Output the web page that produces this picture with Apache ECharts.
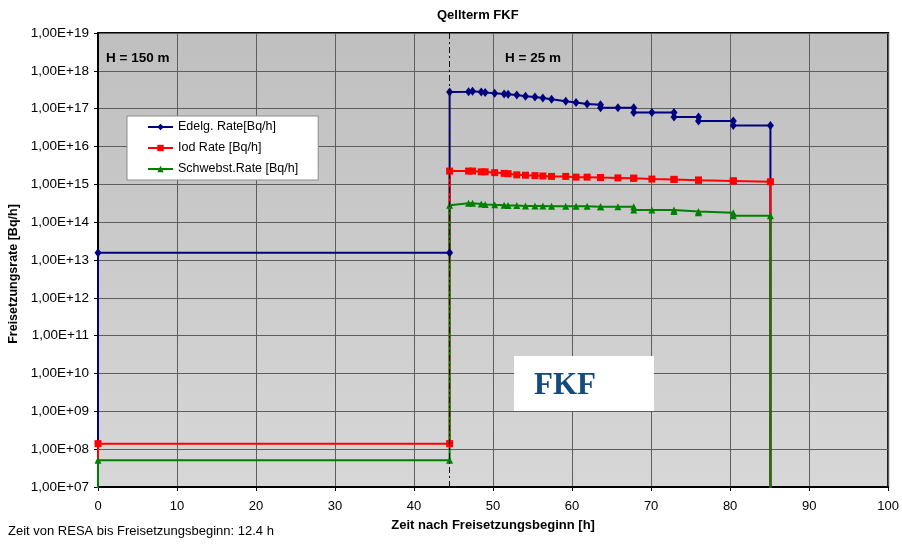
<!DOCTYPE html>
<html>
<head>
<meta charset="utf-8">
<script src="https://cdn.jsdelivr.net/npm/echarts@6/dist/echarts.min.js"></script>
<style>
  html, body { margin: 0; padding: 0; background: #ffffff; }
  #chart { width: 902px; height: 544px; }
</style>
</head>
<body>
<div id="chart"></div>
<script>
// Time after release start [h]; repeated times make the step changes of the rates
const times = [0, 0, 44.5, 44.5, 46.9, 47.4, 48.5, 49.0, 50.2, 51.4, 51.9, 53.0, 54.1, 55.3, 56.3, 57.4,
  59.2, 60.5, 61.9, 63.6, 63.6, 65.8, 67.8, 67.8, 70.1, 72.9, 72.9, 76.0, 76.0, 80.4, 80.4, 85.1, 85.1];

// Release rates [Bq/h]; 0 = no release
const edelgRate = [0, 1.55e13, 1.55e13, 2.75e17, 2.82e17, 2.88e17, 2.75e17, 2.69e17, 2.57e17, 2.45e17, 2.40e17,
  2.29e17, 2.14e17, 2.04e17, 1.91e17, 1.78e17, 1.58e17, 1.45e17, 1.32e17, 1.26e17, 1.05e17, 1.05e17, 1.05e17,
  7.9e16, 7.9e16, 7.9e16, 6.0e16, 6.0e16, 4.7e16, 4.7e16, 3.6e16, 3.6e16, 0];
const iodRate = [0, 1.4e8, 1.4e8, 2.24e15, 2.24e15, 2.24e15, 2.14e15, 2.14e15, 2.04e15, 1.95e15, 1.91e15,
  1.78e15, 1.74e15, 1.70e15, 1.66e15, 1.62e15, 1.62e15, 1.55e15, 1.55e15, 1.51e15, 1.51e15, 1.48e15, 1.45e15,
  1.45e15, 1.38e15, 1.35e15, 1.35e15, 1.29e15, 1.29e15, 1.23e15, 1.23e15, 1.17e15, 0];
const schwebstRate = [0, 5.1e7, 5.1e7, 2.8e14, 3.16e14, 3.16e14, 3.0e14, 2.95e14, 2.88e14, 2.82e14, 2.75e14,
  2.75e14, 2.69e14, 2.69e14, 2.69e14, 2.63e14, 2.63e14, 2.63e14, 2.63e14, 2.57e14, 2.57e14, 2.57e14, 2.57e14,
  2.09e14, 2.09e14, 2.09e14, 1.9e14, 1.9e14, 1.78e14, 1.78e14, 1.48e14, 1.48e14, 0];

const seriesNames = ['Edelg. Rate[Bq/h]', 'Iod Rate [Bq/h]', 'Schwebst.Rate [Bq/h]'];
const xTicks = [0, 10, 20, 30, 40, 50, 60, 70, 80, 90, 100];
const yMin = 1e7, yMax = 1e19;
const stackHeightChange = 44.5;   // switch from H = 150 m to H = 25 m

const FONT = '"Liberation Sans", Arial, sans-serif';
// zero rates cannot sit on a log axis: they are drawn below the axis floor and clipped
const FLOOR = 1;

function toPoints(values) {
  return times.map((t, i) => {
    const v = values[i];
    return v === 0 ? { value: [t, FLOOR], symbol: 'none' } : { value: [t, v] };
  });
}

const chart = echarts.init(document.getElementById('chart'), null, { renderer: 'canvas' });

const expLabel = (v) => {
  const e = Math.round(Math.log10(v));
  return '1,00E+' + (e < 10 ? '0' + e : String(e));
};

chart.setOption({
  animation: false,
  backgroundColor: '#ffffff',
  textStyle: { fontFamily: FONT },
  grid: {
    left: 98, right: 11, top: 33, bottom: 57,
    show: true,
    borderColor: '#000000',
    borderWidth: 2,
    backgroundColor: {
      type: 'linear', x: 0, y: 0, x2: 0, y2: 1,
      colorStops: [{ offset: 0, color: '#bfbfbf' }, { offset: 1, color: '#d7d7d7' }]
    }
  },
  legend: {
    orient: 'vertical',
    left: 127, top: 116,
    padding: [4, 20, 4, 20],
    itemGap: 7,
    itemWidth: 25,
    itemHeight: 8,
    backgroundColor: '#ffffff',
    borderColor: '#8c8c8c',
    borderWidth: 1,
    borderRadius: 0,
    data: seriesNames,
    textStyle: { fontFamily: FONT, fontSize: 12.5, color: '#000000', lineHeight: 14 }
  },
  xAxis: {
    type: 'value',
    min: xTicks[0], max: xTicks[xTicks.length - 1], interval: 10,
    name: 'Zeit nach Freisetzungsbeginn [h]',
    nameLocation: 'middle',
    nameGap: 32,
    nameTextStyle: { fontFamily: FONT, fontSize: 13, fontWeight: 'bold', color: '#000000' },
    axisLine: { show: true, onZero: false, lineStyle: { color: '#000000', width: 2 } },
    axisTick: { show: true, length: 4, lineStyle: { color: '#000000' } },
    axisLabel: { fontFamily: FONT, fontSize: 13, color: '#000000', margin: 13 },
    splitLine: { show: true, lineStyle: { color: '#5e5e5e', width: 1 } }
  },
  yAxis: {
    type: 'log',
    logBase: 10,
    min: yMin, max: yMax,
    interval: 1,
    axisLine: { show: true, lineStyle: { color: '#000000', width: 2 } },
    axisTick: { show: true, length: 4, lineStyle: { color: '#000000' } },
    minorTick: { show: false },
    axisLabel: { fontFamily: FONT, fontSize: 13.5, color: '#000000', margin: 9, formatter: expLabel },
    splitLine: { show: true, lineStyle: { color: '#5e5e5e', width: 1 } }
  },
  series: [
    {
      name: seriesNames[0],
      type: 'line',
      data: toPoints(edelgRate),
      clip: true,
      color: '#000080',
      lineStyle: { width: 2, color: '#000080' },
      symbol: 'diamond',
      symbolSize: [7, 9],
      itemStyle: { color: '#000080' },
      markLine: {
        silent: true,
        symbol: 'none',
        label: { show: false },
        lineStyle: { color: '#111111', width: 1, type: [6, 3, 2, 3] },
        data: [{ xAxis: stackHeightChange }]
      }
    },
    {
      name: seriesNames[1],
      type: 'line',
      data: toPoints(iodRate),
      clip: true,
      color: '#ff0000',
      lineStyle: { width: 2, color: '#ff0000' },
      symbol: 'rect',
      symbolSize: 7,
      itemStyle: { color: '#ff0000' }
    },
    {
      name: seriesNames[2],
      type: 'line',
      data: toPoints(schwebstRate),
      clip: true,
      color: '#008000',
      lineStyle: { width: 2, color: '#008000' },
      symbol: 'triangle',
      symbolSize: 7,
      itemStyle: { color: '#008000' }
    }
  ],
  graphic: [
    {
      type: 'text', left: 437, top: 9,
      style: { text: 'Qellterm FKF', font: 'bold 13px ' + FONT, fill: '#000000' }
    },
    {
      type: 'text', left: 106, top: 51,
      style: { text: 'H = 150 m', font: 'bold 13.5px ' + FONT, fill: '#000000' }
    },
    {
      type: 'text', left: 505, top: 51,
      style: { text: 'H = 25 m', font: 'bold 13.5px ' + FONT, fill: '#000000' }
    },
    {
      type: 'text',
      x: 14, y: 274,
      rotation: Math.PI / 2,
      style: {
        text: 'Freisetzungsrate [Bq/h]', font: 'bold 12.5px ' + FONT, fill: '#000000',
        align: 'center', verticalAlign: 'middle'
      }
    },
    {
      type: 'text', left: 8, top: 525,
      style: { text: 'Zeit von RESA bis Freisetzungsbeginn: 12.4 h', font: '13px ' + FONT, fill: '#000000' }
    },
    {
      // logo box sits on top of the grid lines
      type: 'group', left: 514, top: 356, z: 100,
      children: [
        { type: 'rect', z: 100, shape: { x: 0, y: 0, width: 140, height: 55 }, style: { fill: '#ffffff' } },
        {
          type: 'text', z: 101, x: 20, y: 30,
          style: {
            text: 'FKF', font: 'bold 31px "Liberation Serif", "Times New Roman", serif',
            fill: '#144a7c', verticalAlign: 'middle'
          }
        }
      ]
    }
  ]
});
</script>
</body>
</html>
